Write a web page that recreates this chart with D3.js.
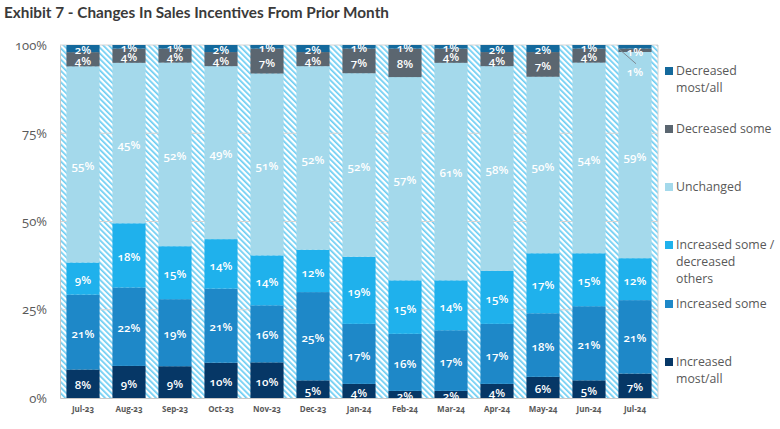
<!DOCTYPE html>
<html><head><meta charset="utf-8">
<script src="https://cdn.jsdelivr.net/npm/d3@7"></script>
<style>
body{margin:0;background:#fff;}
svg{display:block;font-family:"Open Sans",Lato,sans-serif;}
.onum{font-feature-settings:"onum" 1;font-variant-numeric:oldstyle-nums;}
</style></head>
<body><svg id="c" width="780" height="429"></svg>
<script>
const months = ["Jul-23","Aug-23","Sep-23","Oct-23","Nov-23","Dec-23","Jan-24","Feb-24","Mar-24","Apr-24","May-24","Jun-24","Jul-24"];
const seriesNames = ["Increased most/all","Increased some","Increased some / decreased others","Unchanged","Decreased some","Decreased most/all"];
const increasedMostAll  = [8,9,9,10,10,5,4,2,2,4,6,5,7];
const increasedSome     = [21,22,19,21,16,25,17,16,17,17,18,21,21];
const increasedSomeDecreasedOthers = [9,18,15,14,14,12,19,15,14,15,17,15,12];
const unchanged         = [55,45,52,49,51,52,52,57,61,58,50,54,59];
const decreasedSome     = [4,4,4,4,7,4,7,8,4,4,7,4,1];
const decreasedMostAll  = [2,1,1,2,1,2,1,1,1,2,2,1,1];
const yTicks = [0,0.25,0.5,0.75,1];
const yTickLabels = ["0%","25%","50%","75%","100%"];

const colors = ["#063766","#1e88c8","#1fb1ec","#a4d9eb","#5b6670","#14699c"];
const allSeries = [increasedMostAll,increasedSome,increasedSomeDecreasedOthers,unchanged,decreasedSome,decreasedMostAll];

const rows = months.map((m,i)=>{const r={month:m}; seriesNames.forEach((s,k)=>r[s]=allSeries[k][i]); return r;});
const stack = d3.stack().keys(seriesNames).offset(d3.stackOffsetExpand)(rows);

const svg = d3.select("#c");
const L=60,R=658,T=45,B=398;
const x = d3.scaleBand().domain(months).range([L,R]).paddingInner(0.28).paddingOuter(0.14);
const y = d3.scaleLinear().domain([0,1]).range([B,T]);

// hatch pattern
const defs = svg.append("defs");
const pat = defs.append("pattern").attr("id","hatch").attr("patternUnits","userSpaceOnUse")
  .attr("width",4).attr("height",4).attr("patternTransform","rotate(-45)");
pat.append("rect").attr("width",4).attr("height",4).attr("fill","#ffffff");
pat.append("rect").attr("x",0).attr("y",0).attr("width",1.7).attr("height",4).attr("fill","#6ccdf3");

svg.append("rect").attr("x",L).attr("y",T).attr("width",R-L).attr("height",B-T).attr("fill","url(#hatch)");

// gridlines
svg.append("g").selectAll("line").data(yTicks.filter(t=>t>0)).join("line")
  .attr("x1",L).attr("x2",R).attr("y1",d=>y(d)).attr("y2",d=>y(d))
  .attr("stroke","#d4d4d4").attr("stroke-width",1);
svg.append("line").attr("x1",R).attr("x2",R).attr("y1",T).attr("y2",B).attr("stroke","#d4d4d4");

// bars
const g = svg.append("g");
stack.forEach((layer,k)=>{
  g.append("g").selectAll("rect").data(layer).join("rect")
   .attr("x",d=>x(d.data.month)).attr("width",x.bandwidth())
   .attr("y",d=>y(d[1])).attr("height",d=>y(d[0])-y(d[1]))
   .attr("fill",colors[k]);
});

// axes
const yAxis = d3.axisLeft(y).tickValues(yTicks).tickFormat((d,i)=>yTickLabels[i]).tickSize(0).tickPadding(13);
const ya = svg.append("g").attr("transform",`translate(${L},0)`).call(yAxis);
ya.select(".domain").attr("stroke","#c8c8c8");
ya.selectAll("text").attr("class","onum").attr("font-size",13).attr("fill","#595959").attr("font-family","'Open Sans',sans-serif");

const xAxis = d3.axisBottom(x).tickSize(0).tickPadding(8);
const xa = svg.append("g").attr("transform",`translate(0,${B})`).call(xAxis);
xa.select(".domain").attr("stroke","#c8c8c8");
xa.selectAll("text").attr("class","onum").attr("font-size",8).attr("font-weight","bold").attr("fill","#595959").attr("font-family","'Open Sans',sans-serif");

// labels
const labelOffset = {"Jul-24|Decreased some":[0,20],"Jul-24|Decreased most/all":[0,4]};
const lg = svg.append("g").attr("text-anchor","middle").attr("fill","#ffffff")
  .attr("font-size",11.5).attr("font-weight",600).attr("class","onum");
stack.forEach((layer,k)=>{
  layer.forEach(d=>{
    const v = allSeries[k][months.indexOf(d.data.month)];
    const off = labelOffset[d.data.month+"|"+layer.key]||[0,0];
    const cx = x(d.data.month)+x.bandwidth()/2+off[0];
    const cy = (y(d[0])+y(d[1]))/2+off[1]+1.5;
    if(off[1]>10){
      lg.append("line").attr("x1",x(d.data.month)).attr("y1",y(d[1])).attr("x2",cx+1).attr("y2",cy-8)
        .attr("stroke","#7f8a94").attr("stroke-width",1);
    }
    lg.append("text").attr("x",cx).attr("y",cy).attr("dy","0.36em").text(v+"%");
  });
});

// legend
const legendItems = [
  {k:5, lines:["Decreased","most/all"], y:71},
  {k:4, lines:["Decreased some"], y:129},
  {k:3, lines:["Unchanged"], y:187},
  {k:2, lines:["Increased some /","decreased","others"], y:245},
  {k:1, lines:["Increased some"], y:304},
  {k:0, lines:["Increased","most/all"], y:362}
];
const leg = svg.append("g");
legendItems.forEach(it=>{
  leg.append("rect").attr("x",665).attr("y",it.y-4).attr("width",8).attr("height",8).attr("fill",colors[it.k]);
  const t = leg.append("text").attr("x",676).attr("y",it.y)
    .attr("font-size",12.3).attr("fill","#595959");
  it.lines.forEach((ln,i)=>t.append("tspan").attr("x",676).attr("dy",i===0?"0.36em":"17px").text(ln));
});

// title
svg.append("text").attr("x",4).attr("y",18).attr("font-size",15.3).attr("font-weight","bold")
  .attr("font-family","Lato,sans-serif")
  .attr("fill","#3a3a3a").text("Exhibit 7 - Changes In Sales Incentives From Prior Month");
</script></body></html>
